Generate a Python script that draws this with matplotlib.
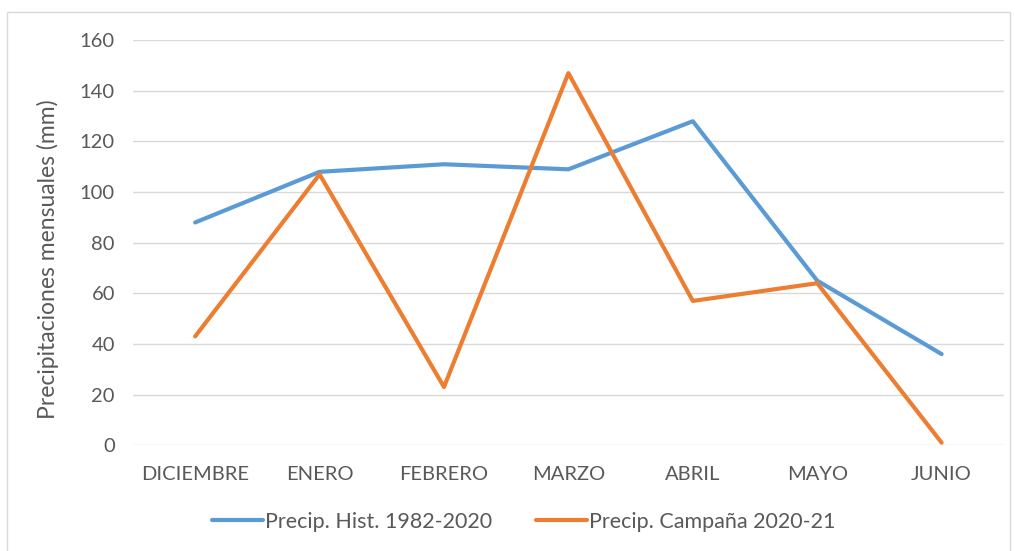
import matplotlib.pyplot as plt
import matplotlib.patches as patches

# Datos
meses = ['DICIEMBRE', 'ENERO', 'FEBRERO', 'MARZO', 'ABRIL', 'MAYO', 'JUNIO']
precip_hist = [88, 108, 111, 109, 128, 65, 36]
precip_campana = [43, 107, 23, 147, 57, 64, 1]
y_ticks = [0, 20, 40, 60, 80, 100, 120, 140, 160]

azul = '#5B9BD5'
naranja = '#ED7D31'
gris_texto = '#595959'

plt.rcParams['font.family'] = ['Lato', 'DejaVu Sans']

fig = plt.figure(figsize=(10.15, 5.51), dpi=100)
fig.patch.set_facecolor('white')
ax = fig.add_axes([0.131, 0.192, 0.858, 0.735])

# Marco exterior del gráfico
marco = patches.Rectangle((7 / 1015, -0.05), 1003 / 1015, 1 - 12 / 551 + 0.05,
                          transform=fig.transFigure, fill=False,
                          edgecolor='#D9D9D9', linewidth=1)
fig.patches.append(marco)

x = range(len(meses))
ax.plot(x, precip_hist, color=azul, linewidth=3, solid_capstyle='round',
        label='Precip. Hist. 1982-2020', zorder=3)
ax.plot(x, precip_campana, color=naranja, linewidth=3, solid_capstyle='round',
        label='Precip. Campaña 2020-21', zorder=3)

ax.set_xlim(-0.5, len(meses) - 0.5)
ax.set_ylim(0, 160)
ax.set_yticks(y_ticks)
ax.set_xticks(list(x))
ax.set_xticklabels(meses)
ax.yaxis.grid(True, color='#D9D9D9', linewidth=1)
ax.set_axisbelow(True)
ax.tick_params(length=0, labelsize=14.5, labelcolor=gris_texto)
ax.tick_params(axis='x', pad=15)
ax.tick_params(axis='y', pad=13)
for spine in ax.spines.values():
    spine.set_visible(False)

ax.set_ylabel('Precipitaciones mensuales (mm)', fontsize=16.5, color=gris_texto)
ax.yaxis.set_label_coords(-0.085, 0.46)

fig.legend(loc='center', bbox_to_anchor=(0.516, 0.053), ncol=2, frameon=False,
           fontsize=15.5, labelcolor=gris_texto, handlelength=2.4,
           handletextpad=0.1, columnspacing=2.0)

fig.savefig('out.png', dpi=100)
